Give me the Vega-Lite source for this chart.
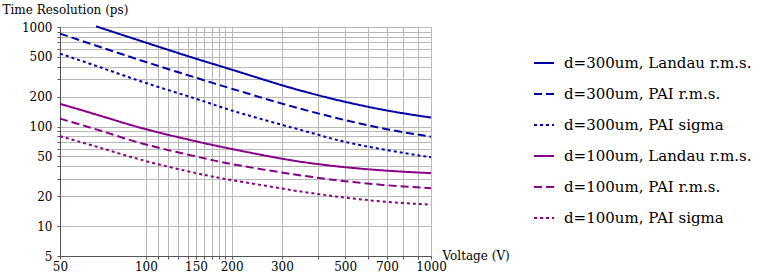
{
  "$schema": "https://vega.github.io/schema/vega-lite/v6.json",
  "autosize": {"type": "none"},
  "padding": {"left": 60, "top": 27, "right": 332, "bottom": 21},
  "width": 371,
  "height": 229,
  "background": "white",
  "config": {
    "view": {"stroke": null},
    "font": "DejaVu Serif",
    "axis": {
      "labelFont": "DejaVu Serif",
      "titleFont": "DejaVu Serif",
      "labelFontSize": 12,
      "titleFontSize": 12,
      "titleFontWeight": "normal",
      "labelColor": "black",
      "titleColor": "black",
      "gridColor": "#b8b8b8",
      "gridWidth": 1,
      "gridOpacity": 1,
      "domainColor": "#555555",
      "tickColor": "#555555",
      "tickSize": 3,
      "labelOverlap": false,
      "labelFlush": false,
      "labelBound": false
    },
    "legend": {
      "labelFont": "DejaVu Serif"
    }
  },
  "data": {
    "values": [
      {"series": "d=300um, Landau r.m.s.", "V": 68, "T": 1000},
      {"series": "d=300um, Landau r.m.s.", "V": 70, "T": 973},
      {"series": "d=300um, Landau r.m.s.", "V": 100, "T": 697},
      {"series": "d=300um, Landau r.m.s.", "V": 150, "T": 480},
      {"series": "d=300um, Landau r.m.s.", "V": 200, "T": 373},
      {"series": "d=300um, Landau r.m.s.", "V": 300, "T": 260},
      {"series": "d=300um, Landau r.m.s.", "V": 400, "T": 207},
      {"series": "d=300um, Landau r.m.s.", "V": 500, "T": 177},
      {"series": "d=300um, Landau r.m.s.", "V": 700, "T": 145},
      {"series": "d=300um, Landau r.m.s.", "V": 1000, "T": 123},
      {"series": "d=300um, PAI r.m.s.", "V": 50, "T": 858},
      {"series": "d=300um, PAI r.m.s.", "V": 70, "T": 623},
      {"series": "d=300um, PAI r.m.s.", "V": 100, "T": 445},
      {"series": "d=300um, PAI r.m.s.", "V": 150, "T": 309},
      {"series": "d=300um, PAI r.m.s.", "V": 200, "T": 240},
      {"series": "d=300um, PAI r.m.s.", "V": 300, "T": 170},
      {"series": "d=300um, PAI r.m.s.", "V": 400, "T": 136},
      {"series": "d=300um, PAI r.m.s.", "V": 500, "T": 116},
      {"series": "d=300um, PAI r.m.s.", "V": 700, "T": 94},
      {"series": "d=300um, PAI r.m.s.", "V": 1000, "T": 79},
      {"series": "d=300um, PAI sigma", "V": 50, "T": 540},
      {"series": "d=300um, PAI sigma", "V": 70, "T": 389},
      {"series": "d=300um, PAI sigma", "V": 100, "T": 274},
      {"series": "d=300um, PAI sigma", "V": 150, "T": 190},
      {"series": "d=300um, PAI sigma", "V": 200, "T": 145},
      {"series": "d=300um, PAI sigma", "V": 300, "T": 104},
      {"series": "d=300um, PAI sigma", "V": 400, "T": 83},
      {"series": "d=300um, PAI sigma", "V": 500, "T": 70},
      {"series": "d=300um, PAI sigma", "V": 700, "T": 58},
      {"series": "d=300um, PAI sigma", "V": 1000, "T": 49},
      {"series": "d=100um, Landau r.m.s.", "V": 50, "T": 169},
      {"series": "d=100um, Landau r.m.s.", "V": 70, "T": 127},
      {"series": "d=100um, Landau r.m.s.", "V": 100, "T": 94},
      {"series": "d=100um, Landau r.m.s.", "V": 150, "T": 71},
      {"series": "d=100um, Landau r.m.s.", "V": 200, "T": 59.5},
      {"series": "d=100um, Landau r.m.s.", "V": 300, "T": 47.5},
      {"series": "d=100um, Landau r.m.s.", "V": 400, "T": 42},
      {"series": "d=100um, Landau r.m.s.", "V": 500, "T": 39},
      {"series": "d=100um, Landau r.m.s.", "V": 700, "T": 36},
      {"series": "d=100um, Landau r.m.s.", "V": 1000, "T": 34},
      {"series": "d=100um, PAI r.m.s.", "V": 50, "T": 120},
      {"series": "d=100um, PAI r.m.s.", "V": 70, "T": 90},
      {"series": "d=100um, PAI r.m.s.", "V": 100, "T": 66},
      {"series": "d=100um, PAI r.m.s.", "V": 150, "T": 50},
      {"series": "d=100um, PAI r.m.s.", "V": 200, "T": 42},
      {"series": "d=100um, PAI r.m.s.", "V": 300, "T": 34.5},
      {"series": "d=100um, PAI r.m.s.", "V": 400, "T": 30.6},
      {"series": "d=100um, PAI r.m.s.", "V": 500, "T": 28.2},
      {"series": "d=100um, PAI r.m.s.", "V": 700, "T": 25.7},
      {"series": "d=100um, PAI r.m.s.", "V": 1000, "T": 24},
      {"series": "d=100um, PAI sigma", "V": 50, "T": 80},
      {"series": "d=100um, PAI sigma", "V": 70, "T": 60.5},
      {"series": "d=100um, PAI sigma", "V": 100, "T": 45},
      {"series": "d=100um, PAI sigma", "V": 150, "T": 34},
      {"series": "d=100um, PAI sigma", "V": 200, "T": 29},
      {"series": "d=100um, PAI sigma", "V": 300, "T": 23.8},
      {"series": "d=100um, PAI sigma", "V": 400, "T": 21},
      {"series": "d=100um, PAI sigma", "V": 500, "T": 19.3},
      {"series": "d=100um, PAI sigma", "V": 700, "T": 17.5},
      {"series": "d=100um, PAI sigma", "V": 1000, "T": 16.4}
    ]
  },
  "mark": {"type": "line", "strokeWidth": 2, "interpolate": "natural"},
  "encoding": {
    "x": {
      "field": "V",
      "type": "quantitative",
      "scale": {"type": "log", "domain": [50, 1000], "nice": false},
      "axis": {
        "title": "Voltage (V)",
        "titleAngle": 0,
        "titleAlign": "left",
        "titleBaseline": "alphabetic",
        "titleX": 382,
        "titleY": 3,
        "values": [50, 100, 110, 120, 130, 140, 150, 160, 170, 180, 190, 200, 300, 400, 500, 600, 700, 800, 900, 1000],
        "labelExpr": "indexof([50,100,150,200,300,500,700,1000], datum.value) >= 0 ? datum.value : ''",
        "labelPadding": 2,
        "grid": true
      }
    },
    "y": {
      "field": "T",
      "type": "quantitative",
      "scale": {"type": "log", "domain": [5, 1000], "nice": false},
      "axis": {
        "title": "Time Resolution (ps)",
        "titleAngle": 0,
        "titleAlign": "left",
        "titleBaseline": "alphabetic",
        "titleX": -58,
        "titleY": -14,
        "values": [5, 10, 20, 30, 40, 50, 60, 70, 80, 90, 100, 200, 300, 400, 500, 600, 700, 800, 900, 1000],
        "labelExpr": "indexof([5,10,20,50,100,200,500,1000], datum.value) >= 0 ? datum.value : ''",
        "labelPadding": 5,
        "grid": true
      }
    },
    "color": {
      "field": "series",
      "type": "nominal",
      "sort": null,
      "scale": {
        "domain": ["d=300um, Landau r.m.s.", "d=300um, PAI r.m.s.", "d=300um, PAI sigma", "d=100um, Landau r.m.s.", "d=100um, PAI r.m.s.", "d=100um, PAI sigma"],
        "range": ["#0000aa", "#0000aa", "#0000aa", "#880088", "#880088", "#880088"]
      },
      "legend": {
        "title": null,
        "orient": "none",
        "legendX": 473,
        "legendY": 25,
        "padding": 0,
        "symbolType": "stroke",
        "symbolSize": 400,
        "symbolStrokeWidth": 2,
        "labelFont": "DejaVu Serif",
        "labelFontSize": 15,
        "labelColor": "black",
        "labelOffset": 9,
        "rowPadding": 12,
        "labelLimit": 300,
        "encode": {
          "symbols": {
            "update": {
              "strokeDash": {"signal": "indexof(datum.value, 'PAI r.m.s.') >= 0 ? [5.5, 2] : (indexof(datum.value, 'sigma') >= 0 ? [2.5, 2.5] : [1, 0])"}
            }
          }
        }
      }
    },
    "strokeDash": {
      "field": "series",
      "type": "nominal",
      "sort": null,
      "scale": {
        "domain": ["d=300um, Landau r.m.s.", "d=300um, PAI r.m.s.", "d=300um, PAI sigma", "d=100um, Landau r.m.s.", "d=100um, PAI r.m.s.", "d=100um, PAI sigma"],
        "range": [[1, 0], [8, 4], [3, 3], [1, 0], [8, 4], [3, 3]]
      },
      "legend": null
    }
  }
}
